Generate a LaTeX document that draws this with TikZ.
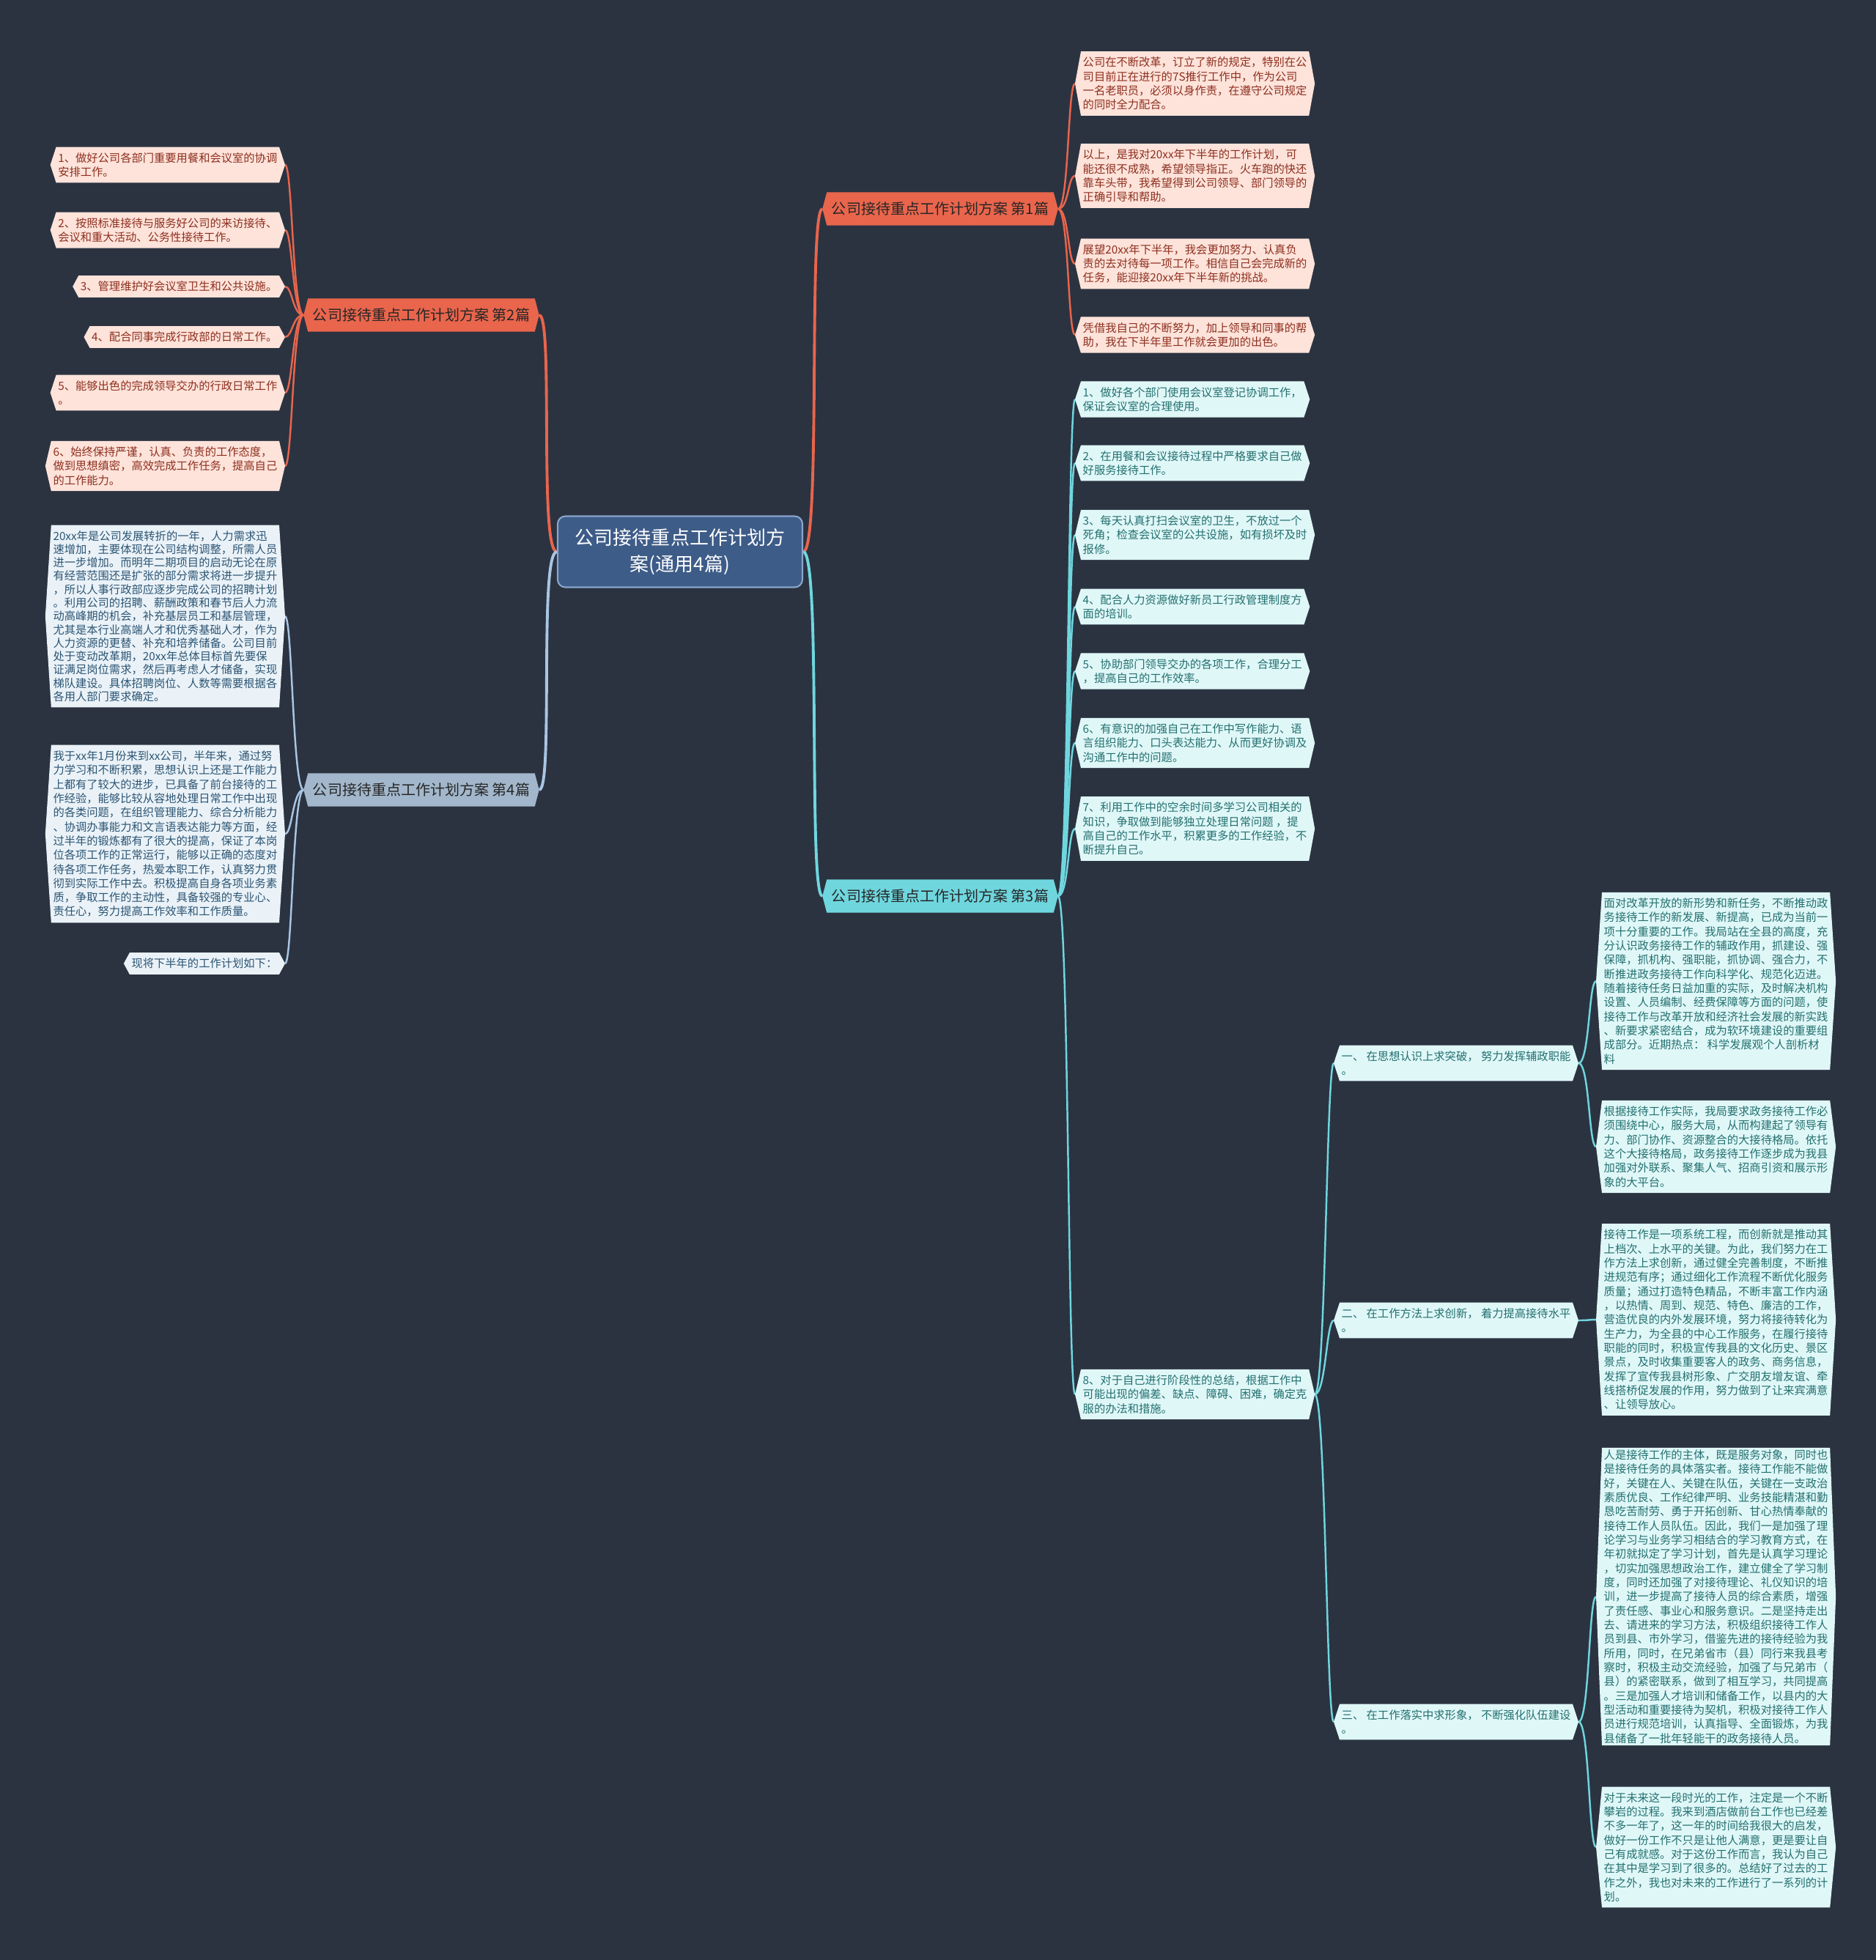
\documentclass[tikz,border=0pt]{standalone}
\usepackage{fontspec}
\setmainfont{Noto Sans CJK SC}
\usepackage{tikz}
\usetikzlibrary{calc}
\pgfdeclarelayer{bg}
\pgfdeclarelayer{fills}
\pgfsetlayers{bg,fills,main}
\definecolor{mapbg}{HTML}{2B3341}
\definecolor{hubblue}{HTML}{3E5C88}
\definecolor{hubline}{HTML}{8AA5CC}
\definecolor{mapred}{HTML}{E9654C}
\definecolor{redink}{HTML}{8E2F1F}
\definecolor{leafpink}{HTML}{FDE3DA}
\definecolor{mapcyan}{HTML}{6FD6DE}
\definecolor{cyanink}{HTML}{23706F}
\definecolor{leafcyan}{HTML}{E0F7F8}
\definecolor{mapsteel}{HTML}{A2B7CB}
\definecolor{steelline}{HTML}{A9C6E3}
\definecolor{steelink}{HTML}{2C5573}
\definecolor{leafsteel}{HTML}{EAF2F8}

\begin{document}
\begin{tikzpicture}[
  hub/.style={draw=hubline, line width=0.6pt, fill=hubblue, rounded corners=3pt, text=white, align=center,
    minimum width=3.34cm, minimum height=0.97cm, font=\fontsize{7.4pt}{10.2pt}\selectfont},
  branch/.style={inner xsep=0.12cm, minimum width=3.17cm, minimum height=0.44cm, font=\fontsize{5.7pt}{6.5pt}\selectfont},
  leaf/.style={inner xsep=0.1cm, inner ysep=0.07cm, align=left, font=\fontsize{4.35pt}{5.5pt}\selectfont},
  link/.style={line width=1.1pt},
  twig/.style={line width=0.7pt},
]
\useasboundingbox (0,0) rectangle (25.6,-26.75);
\begin{pgfonlayer}{bg}
  \fill[mapbg] (0,0) rectangle (25.6,-26.75);
\end{pgfonlayer}

% Center topic
\node[hub] (hub) at (9.28,-7.53) {公司接待重点工作计划方\\案(通用4篇)};

% Main branches
\node[branch, text=black!85] (p1) at (12.83,-2.85) {公司接待重点工作计划方案 第1篇};
\node[branch, text=black!85] (p2) at (5.75,-4.30) {公司接待重点工作计划方案 第2篇};
\node[branch, text=black!85] (p3) at (12.83,-12.23) {公司接待重点工作计划方案 第3篇};
\node[branch, text=black!85] (p4) at (5.75,-10.78) {公司接待重点工作计划方案 第4篇};

% Leaves of branch 1
\node[leaf, text=redink, anchor=west] (p1a) at (14.67,-1.14) {公司在不断改革，订立了新的规定，特别在公\\司目前正在进行的7S推行工作中，作为公司\\一名老职员，必须以身作责，在遵守公司规定\\的同时全力配合。};
\node[leaf, text=redink, anchor=west] (p1b) at (14.67,-2.40) {以上，是我对20xx年下半年的工作计划，可\\能还很不成熟，希望领导指正。火车跑的快还\\靠车头带，我希望得到公司领导、部门领导的\\正确引导和帮助。};
\node[leaf, text=redink, anchor=west] (p1c) at (14.67,-3.60) {展望20xx年下半年，我会更加努力、认真负\\责的去对待每一项工作。相信自己会完成新的\\任务，能迎接20xx年下半年新的挑战。};
\node[leaf, text=redink, anchor=west] (p1d) at (14.67,-4.57) {凭借我自己的不断努力，加上领导和同事的帮\\助，我在下半年里工作就会更加的出色。};

% Leaves of branch 2
\node[leaf, text=redink, anchor=east] (p2a) at (3.89,-2.25) {1、做好公司各部门重要用餐和会议室的协调\\安排工作。};
\node[leaf, text=redink, anchor=east] (p2b) at (3.89,-3.14) {2、按照标准接待与服务好公司的来访接待、\\会议和重大活动、公务性接待工作。};
\node[leaf, text=redink, anchor=east] (p2c) at (3.89,-3.91) {3、管理维护好会议室卫生和公共设施。};
\node[leaf, text=redink, anchor=east] (p2d) at (3.89,-4.60) {4、配合同事完成行政部的日常工作。};
\node[leaf, text=redink, anchor=east] (p2e) at (3.89,-5.36) {5、能够出色的完成领导交办的行政日常工作\\。};
\node[leaf, text=redink, anchor=east] (p2f) at (3.89,-6.36) {6、始终保持严谨，认真、负责的工作态度，\\做到思想缜密，高效完成工作任务，提高自己\\的工作能力。};

% Leaves of branch 4
\node[leaf, text=steelink, anchor=east, font=\fontsize{4.35pt}{5.2pt}\selectfont] (p4a) at (3.89,-8.41) {20xx年是公司发展转折的一年，人力需求迅\\速增加，主要体现在公司结构调整，所需人员\\进一步增加。而明年二期项目的启动无论在原\\有经营范围还是扩张的部分需求将进一步提升\\，所以人事行政部应逐步完成公司的招聘计划\\。利用公司的招聘、薪酬政策和春节后人力流\\动高峰期的机会，补充基层员工和基层管理，\\尤其是本行业高端人才和优秀基础人才，作为\\人力资源的更替、补充和培养储备。公司目前\\处于变动改革期，20xx年总体目标首先要保\\证满足岗位需求，然后再考虑人才储备，实现\\梯队建设。具体招聘岗位、人数等需要根据各\\各用人部门要求确定。};
\node[leaf, text=steelink, anchor=east] (p4b) at (3.89,-11.38) {我于xx年1月份来到xx公司，半年来，通过努\\力学习和不断积累，思想认识上还是工作能力\\上都有了较大的进步，已具备了前台接待的工\\作经验，能够比较从容地处理日常工作中出现\\的各类问题，在组织管理能力、综合分析能力\\、协调办事能力和文言语表达能力等方面，经\\过半年的锻炼都有了很大的提高，保证了本岗\\位各项工作的正常运行，能够以正确的态度对\\待各项工作任务，热爱本职工作，认真努力贯\\彻到实际工作中去。积极提高自身各项业务素\\质，争取工作的主动性，具备较强的专业心、\\责任心，努力提高工作效率和工作质量。};
\node[leaf, text=steelink, anchor=east] (p4c) at (3.89,-13.15) {现将下半年的工作计划如下：};

% Leaves of branch 3
\node[leaf, text=cyanink, anchor=west] (p3a) at (14.67,-5.45) {1、做好各个部门使用会议室登记协调工作，\\保证会议室的合理使用。};
\node[leaf, text=cyanink, anchor=west] (p3b) at (14.67,-6.32) {2、在用餐和会议接待过程中严格要求自己做\\好服务接待工作。};
\node[leaf, text=cyanink, anchor=west] (p3c) at (14.67,-7.30) {3、每天认真打扫会议室的卫生，不放过一个\\死角；检查会议室的公共设施，如有损坏及时\\报修。};
\node[leaf, text=cyanink, anchor=west] (p3d) at (14.67,-8.28) {4、配合人力资源做好新员工行政管理制度方\\面的培训。};
\node[leaf, text=cyanink, anchor=west] (p3e) at (14.67,-9.16) {5、协助部门领导交办的各项工作，合理分工\\，提高自己的工作效率。};
\node[leaf, text=cyanink, anchor=west] (p3f) at (14.67,-10.14) {6、有意识的加强自己在工作中写作能力、语\\言组织能力、口头表达能力、从而更好协调及\\沟通工作中的问题。};
\node[leaf, text=cyanink, anchor=west] (p3g) at (14.67,-11.31) {7、利用工作中的空余时间多学习公司相关的\\知识，争取做到能够独立处理日常问题 ，提\\高自己的工作水平，积累更多的工作经验，不\\断提升自己。};
\node[leaf, text=cyanink, anchor=west] (p3h) at (14.67,-19.03) {8、对于自己进行阶段性的总结，根据工作中\\可能出现的偏差、缺点、障碍、困难，确定克\\服的办法和措施。};

% Sub points under item 8
\node[leaf, text=cyanink, anchor=west] (s1) at (18.20,-14.51) {一、 在思想认识上求突破， 努力发挥辅政职能\\。};
\node[leaf, text=cyanink, anchor=west] (s2) at (18.20,-18.02) {二、 在工作方法上求创新， 着力提高接待水平\\。};
\node[leaf, text=cyanink, anchor=west] (s3) at (18.20,-23.50) {三、 在工作落实中求形象， 不断强化队伍建设\\。};

% Details of the sub points
\node[leaf, text=cyanink, anchor=west] (d1) at (21.78,-13.39) {面对改革开放的新形势和新任务，不断推动政\\务接待工作的新发展、新提高，已成为当前一\\项十分重要的工作。我局站在全县的高度，充\\分认识政务接待工作的辅政作用，抓建设、强\\保障，抓机构、强职能，抓协调、强合力，不\\断推进政务接待工作向科学化、规范化迈进。\\随着接待任务日益加重的实际，及时解决机构\\设置、人员编制、经费保障等方面的问题，使\\接待工作与改革开放和经济社会发展的新实践\\、新要求紧密结合，成为软环境建设的重要组\\成部分。近期热点： 科学发展观个人剖析材\\料};
\node[leaf, text=cyanink, anchor=west] (d2) at (21.78,-15.65) {根据接待工作实际，我局要求政务接待工作必\\须围绕中心，服务大局，从而构建起了领导有\\力、部门协作、资源整合的大接待格局。依托\\这个大接待格局，政务接待工作逐步成为我县\\加强对外联系、聚集人气、招商引资和展示形\\象的大平台。};
\node[leaf, text=cyanink, anchor=west] (d3) at (21.78,-18.01) {接待工作是一项系统工程，而创新就是推动其\\上档次、上水平的关键。为此，我们努力在工\\作方法上求创新，通过健全完善制度，不断推\\进规范有序；通过细化工作流程不断优化服务\\质量；通过打造特色精品，不断丰富工作内涵\\，以热情、周到、规范、特色、廉洁的工作，\\营造优良的内外发展环境，努力将接待转化为\\生产力，为全县的中心工作服务，在履行接待\\职能的同时，积极宣传我县的文化历史、景区\\景点，及时收集重要客人的政务、商务信息，\\发挥了宣传我县树形象、广交朋友增友谊、牵\\线搭桥促发展的作用，努力做到了让来宾满意\\、让领导放心。};
\node[leaf, text=cyanink, anchor=west, inner ysep=0.02cm] (d4) at (21.78,-21.79) {人是接待工作的主体，既是服务对象，同时也\\是接待任务的具体落实者。接待工作能不能做\\好，关键在人、关键在队伍，关键在一支政治\\素质优良、工作纪律严明、业务技能精湛和勤\\恳吃苦耐劳、勇于开拓创新、甘心热情奉献的\\接待工作人员队伍。因此，我们一是加强了理\\论学习与业务学习相结合的学习教育方式，在\\年初就拟定了学习计划，首先是认真学习理论\\，切实加强思想政治工作，建立健全了学习制\\度，同时还加强了对接待理论、礼仪知识的培\\训，进一步提高了接待人员的综合素质，增强\\了责任感、事业心和服务意识。二是坚持走出\\去、请进来的学习方法，积极组织接待工作人\\员到县、市外学习，借鉴先进的接待经验为我\\所用，同时，在兄弟省市（县）同行来我县考\\察时，积极主动交流经验，加强了与兄弟市（\\县）的紧密联系，做到了相互学习，共同提高\\。三是加强人才培训和储备工作，以县内的大\\型活动和重要接待为契机，积极对接待工作人\\员进行规范培训，认真指导、全面锻炼，为我\\县储备了一批年轻能干的政务接待人员。};
\node[leaf, text=cyanink, anchor=west] (d5) at (21.78,-25.21) {对于未来这一段时光的工作，注定是一个不断\\攀岩的过程。我来到酒店做前台工作也已经差\\不多一年了，这一年的时间给我很大的启发，\\做好一份工作不只是让他人满意，更是要让自\\己有成就感。对于这份工作而言，我认为自己\\在其中是学习到了很多的。总结好了过去的工\\作之外，我也对未来的工作进行了一系列的计\\划。};

% Hexagon fills behind the texts
\begin{pgfonlayer}{fills}
  \foreach \n/\c in {p1/mapred, p2/mapred, p3/mapcyan, p4/mapsteel}
    \fill[\c] ([xshift=0.06cm]\n.north west) -- ([xshift=-0.06cm]\n.north east) -- (\n.east)
      -- ([xshift=-0.06cm]\n.south east) -- ([xshift=0.06cm]\n.south west) -- (\n.west) -- cycle;
  \foreach \n/\c in {p1a/leafpink, p1b/leafpink, p1c/leafpink, p1d/leafpink,
      p2a/leafpink, p2b/leafpink, p2c/leafpink, p2d/leafpink, p2e/leafpink, p2f/leafpink,
      p4a/leafsteel, p4b/leafsteel, p4c/leafsteel,
      p3a/leafcyan, p3b/leafcyan, p3c/leafcyan, p3d/leafcyan, p3e/leafcyan, p3f/leafcyan, p3g/leafcyan, p3h/leafcyan,
      s1/leafcyan, s2/leafcyan, s3/leafcyan, d1/leafcyan, d2/leafcyan, d3/leafcyan, d4/leafcyan, d5/leafcyan}
    \fill[\c] ([xshift=0.08cm]\n.north west) -- ([xshift=-0.08cm]\n.north east) -- (\n.east)
      -- ([xshift=-0.08cm]\n.south east) -- ([xshift=0.08cm]\n.south west) -- (\n.west) -- cycle;
\end{pgfonlayer}

% Connectors
\begin{pgfonlayer}{bg}
  \draw[link, mapred] (hub.east) .. controls +(0.25,0) and +(-0.2,0) .. (p1.west);
  \draw[link, mapcyan] (hub.east) .. controls +(0.25,0) and +(-0.2,0) .. (p3.west);
  \draw[link, mapred] (hub.west) .. controls +(-0.25,0) and +(0.2,0) .. (p2.east);
  \draw[link, steelline] (hub.west) .. controls +(-0.25,0) and +(0.2,0) .. (p4.east);
  \foreach \n in {p1a,p1b,p1c,p1d}
    \draw[twig, mapred] (p1.east) .. controls +(0.15,0) and +(-0.1,0) .. (\n.west);
  \foreach \n in {p2a,p2b,p2c,p2d,p2e,p2f}
    \draw[twig, mapred] (p2.west) .. controls +(-0.15,0) and +(0.1,0) .. (\n.east);
  \foreach \n in {p4a,p4b,p4c}
    \draw[twig, steelline] (p4.west) .. controls +(-0.15,0) and +(0.1,0) .. (\n.east);
  \foreach \n in {p3a,p3b,p3c,p3d,p3e,p3f,p3g,p3h}
    \draw[twig, mapcyan] (p3.east) .. controls +(0.15,0) and +(-0.1,0) .. (\n.west);
  \foreach \n in {s1,s2,s3}
    \draw[twig, mapcyan] (p3h.east) .. controls +(0.15,0) and +(-0.1,0) .. (\n.west);
  \foreach \a/\b in {s1/d1, s1/d2, s2/d3, s3/d4, s3/d5}
    \draw[twig, mapcyan] (\a.east) .. controls +(0.15,0) and +(-0.1,0) .. (\b.west);
\end{pgfonlayer}
\end{tikzpicture}
\end{document}
